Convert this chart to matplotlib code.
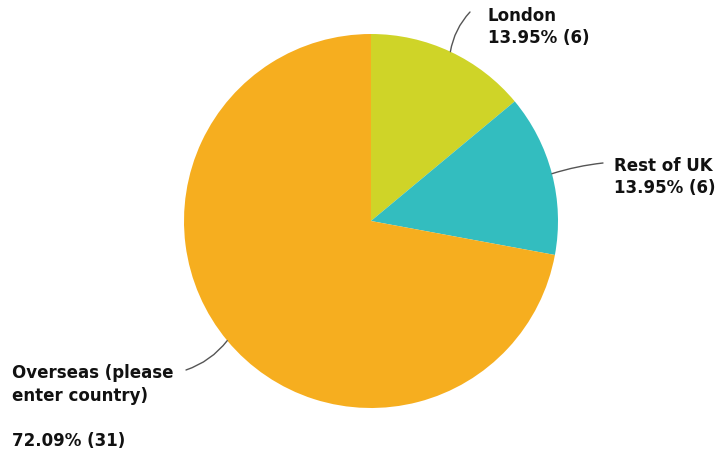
import numpy as np
import matplotlib.pyplot as plt

# Datos del gráfico
categorias = ['London', 'Rest of UK', 'Overseas (please\nenter country)\n']
valores = [6, 6, 31]
colores = ['#CFD428', '#33BDBF', '#F6AE1F']

total = sum(valores)

fig = plt.figure(figsize=(7.25, 4.54), dpi=100)
ax = fig.add_axes([0, 0, 1, 1])

# Pie centrado en pixeles (y desde abajo)
cx, cy, r = 371, 233, 187
wedges, _ = ax.pie(valores, colors=colores, startangle=90, counterclock=False,
                   center=(cx, cy), radius=r, frame=True,
                   wedgeprops=dict(linewidth=0))
ax.set_xlim(0, 725)
ax.set_ylim(0, 454)
ax.set_aspect('equal')
ax.axis('off')

# posiciones de las etiquetas (texto y punto final del conector)
pos_texto = [(488, 454 - 27), (614, 454 - 177), (12, 454 - 407)]
pos_linea = [(470, 454 - 12), (603, 454 - 163), (186, 454 - 370)]
curvas = [0.15, 0.05, 0.15]

for i, w in enumerate(wedges):
    ang = np.deg2rad((w.theta1 + w.theta2) / 2)
    x0 = cx + r * np.cos(ang)
    y0 = cy + r * np.sin(ang)
    pct = valores[i] / total * 100
    texto = f'{categorias[i]}\n{pct:.2f}% ({valores[i]})'
    ax.annotate('', xy=(x0, y0), xytext=pos_linea[i],
                arrowprops=dict(arrowstyle='-', color='#555555', lw=1,
                                connectionstyle=f'arc3,rad={curvas[i]}',
                                shrinkA=0, shrinkB=0))
    ax.text(pos_texto[i][0], pos_texto[i][1], texto, ha='left',
            va='center', fontsize=12, fontweight='bold', color='#111111',
            linespacing=1.35)

fig.savefig('out.png', dpi=100)
